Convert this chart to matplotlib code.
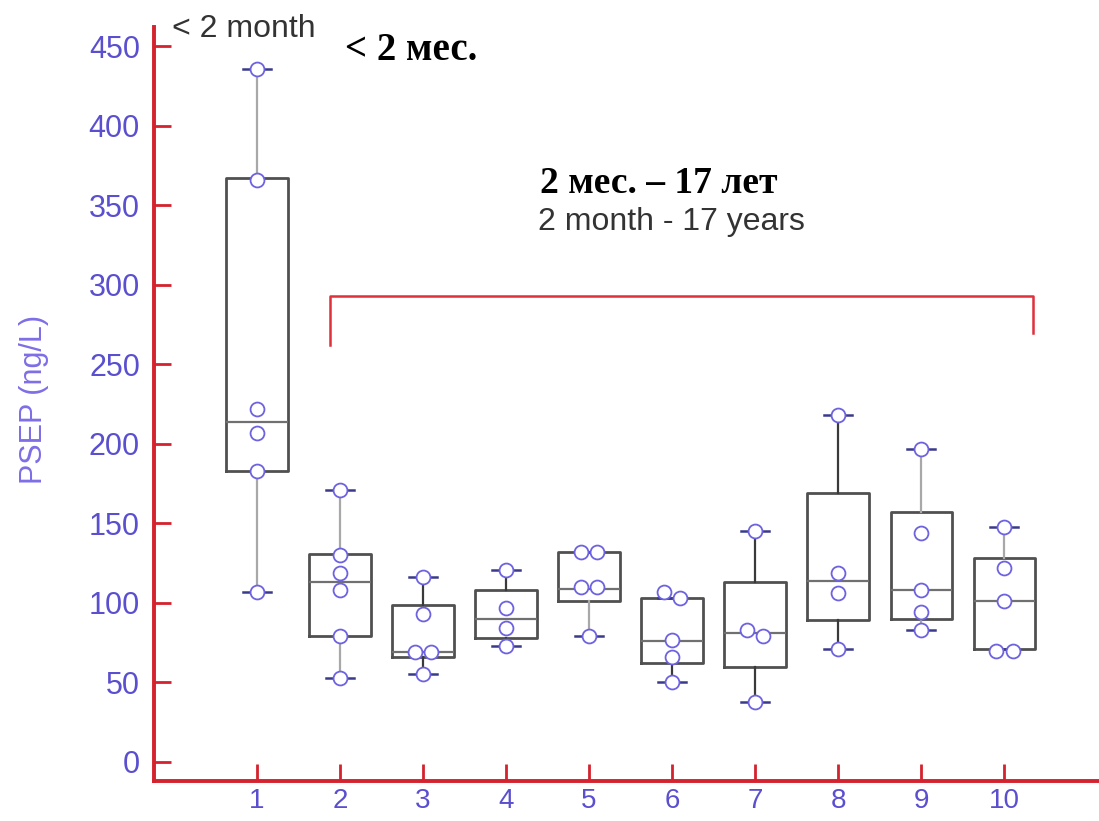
import numpy as np
import matplotlib
matplotlib.use("Agg")
import matplotlib.pyplot as plt

# ----------------------------
# Data
# ----------------------------
groups = [1, 2, 3, 4, 5, 6, 7, 8, 9, 10]
q1 = [183, 79, 66, 78, 101, 62, 60, 89, 90, 71]
med = [214, 113, 69, 90, 109, 76, 81, 114, 108, 101]
q3 = [367, 131, 99, 108, 132, 103, 113, 169, 157, 128]
whislo = [107, 53, 55, 73, 79, 50, 38, 71, 83, 71]
whishi = [436, 171, 116, 121, 132, 103, 145, 218, 197, 148]

points = [
    [436, 366, 222, 207, 183, 107],
    [171, 130, 119, 108, 79, 53],
    [116, 93, 69, 69, 55],
    [121, 97, 84, 73],
    [132, 132, 110, 110, 79],
    [107, 103, 77, 66, 50],
    [145, 83, 79, 38],
    [218, 119, 106, 71],
    [197, 144, 108, 94, 83],
    [148, 122, 101, 70, 70],
]

yticks = [0, 50, 100, 150, 200, 250, 300, 350, 400, 450]

RED = "#d4222e"
PURPLE = "#5a4fcf"
BLUE_PT = "#6d62e0"

# whisker look: light vs dark, as in the scan
whisker_dark = [False, False, True, True, False, True, True, True, False, False]


def spread(vals, x0, close=6, dx=0.1):
    # put nearly equal values side by side
    xs = [x0] * len(vals)
    i = 0
    while i < len(vals):
        j = i
        while j + 1 < len(vals) and abs(vals[j + 1] - vals[i]) < close:
            j += 1
        n = j - i + 1
        if n > 1:
            offs = np.linspace(-dx, dx, n)
            for k in range(n):
                xs[i + k] = x0 + offs[k]
        i = j + 1
    return xs


fig = plt.figure(figsize=(10.99, 8.21), dpi=100)
ax = fig.add_axes([0.140, 0.0487, 0.860, 0.918])

for i in range(len(groups)):
    st = dict(med=med[i], q1=q1[i], q3=q3[i],
              whislo=whislo[i], whishi=whishi[i], fliers=[])
    wc = "#3a3a3a" if whisker_dark[i] else "#a8a8a8"
    ax.bxp([st], positions=[groups[i]], widths=0.74, showfliers=False,
           boxprops=dict(color="#505050", linewidth=2.0),
           medianprops=dict(color="#707070", linewidth=1.6),
           whiskerprops=dict(color=wc, linewidth=1.6),
           capprops=dict(color="#3a3a8a", linewidth=1.8),
           capwidths=0.34, manage_ticks=False)

for i, vals in enumerate(points):
    xs = spread(vals, groups[i])
    ax.plot(xs, vals, "o", ms=10, mfc="white", mec=BLUE_PT, mew=1.3,
            linestyle="none", zorder=5)

# red bracket over groups 2-10
ax.plot([1.88, 1.88, 10.35, 10.35], [262, 293, 293, 270], color="#e0303c",
        linewidth=1.8, clip_on=False)

ax.set_xlim(-0.24, 11.14)
ax.set_ylim(-12, 462)
ax.set_xticks(groups)
ax.set_yticks(yticks)
ax.set_xticklabels([str(g) for g in groups])
ax.set_yticklabels([str(t) for t in yticks])

for s in ["top", "right"]:
    ax.spines[s].set_visible(False)
for s in ["left", "bottom"]:
    ax.spines[s].set_color(RED)
    ax.spines[s].set_linewidth(2.8)

ax.tick_params(axis="both", direction="in", length=12, width=2.0,
               color=RED, labelcolor=PURPLE, labelsize=22)
ax.tick_params(axis="x", pad=5, labelsize=20)
ax.tick_params(axis="y", pad=10)
for lab in ax.get_xticklabels() + ax.get_yticklabels():
    lab.set_family("Liberation Sans")

fig.text(0.031, 0.513, "PSEP (ng/L)", rotation=90, ha="center", va="center",
         color="#7d6ee6", fontsize=22, family="Liberation Sans")

fig.text(0.1565, 0.9647, "< 2 month", ha="left", va="center",
         color="#333333", fontsize=23, family="Liberation Sans")
fig.text(0.314, 0.939, "< 2 мес.", ha="left", va="center",
         color="black", fontsize=28, fontweight="bold", family="Liberation Serif")
fig.text(0.599, 0.777, "2 мес. – 17 лет", ha="center", va="center",
         color="black", fontsize=27, fontweight="bold", family="Liberation Serif")
fig.text(0.611, 0.730, "2 month - 17 years", ha="center", va="center",
         color="#333333", fontsize=23, family="Liberation Sans")

fig.savefig("out.png", dpi=100)
